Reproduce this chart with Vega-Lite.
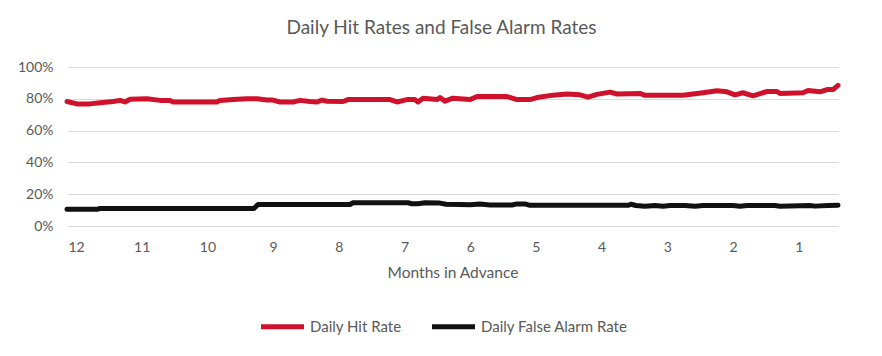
{
  "$schema": "https://vega.github.io/schema/vega-lite/v6.json",
  "width": 771,
  "height": 159,
  "autosize": {"type": "none"},
  "padding": {"left": 67, "top": 67, "right": 44, "bottom": 130},
  "background": "white",
  "title": {
    "text": "Daily Hit Rates and False Alarm Rates",
    "font": "Lato",
    "fontSize": 19,
    "fontWeight": "normal",
    "color": "#595959",
    "anchor": "middle",
    "frame": "group",
    "dx": -11,
    "offset": 22
  },
  "data": {
    "values": [
      {"m": 12.137, "series": "Daily Hit Rate", "v": 0.783},
      {"m": 11.985, "series": "Daily Hit Rate", "v": 0.768},
      {"m": 11.787, "series": "Daily Hit Rate", "v": 0.768},
      {"m": 11.635, "series": "Daily Hit Rate", "v": 0.775},
      {"m": 11.437, "series": "Daily Hit Rate", "v": 0.783},
      {"m": 11.330, "series": "Daily Hit Rate", "v": 0.790},
      {"m": 11.254, "series": "Daily Hit Rate", "v": 0.780},
      {"m": 11.178, "series": "Daily Hit Rate", "v": 0.797},
      {"m": 10.919, "series": "Daily Hit Rate", "v": 0.800},
      {"m": 10.721, "series": "Daily Hit Rate", "v": 0.790},
      {"m": 10.569, "series": "Daily Hit Rate", "v": 0.790},
      {"m": 10.524, "series": "Daily Hit Rate", "v": 0.780},
      {"m": 10.311, "series": "Daily Hit Rate", "v": 0.780},
      {"m": 10.006, "series": "Daily Hit Rate", "v": 0.780},
      {"m": 9.854, "series": "Daily Hit Rate", "v": 0.780},
      {"m": 9.808, "series": "Daily Hit Rate", "v": 0.790},
      {"m": 9.610, "series": "Daily Hit Rate", "v": 0.795},
      {"m": 9.397, "series": "Daily Hit Rate", "v": 0.800},
      {"m": 9.245, "series": "Daily Hit Rate", "v": 0.800},
      {"m": 9.093, "series": "Daily Hit Rate", "v": 0.792},
      {"m": 9.002, "series": "Daily Hit Rate", "v": 0.792},
      {"m": 8.895, "series": "Daily Hit Rate", "v": 0.780},
      {"m": 8.697, "series": "Daily Hit Rate", "v": 0.780},
      {"m": 8.591, "series": "Daily Hit Rate", "v": 0.790},
      {"m": 8.438, "series": "Daily Hit Rate", "v": 0.783},
      {"m": 8.332, "series": "Daily Hit Rate", "v": 0.780},
      {"m": 8.256, "series": "Daily Hit Rate", "v": 0.792},
      {"m": 8.180, "series": "Daily Hit Rate", "v": 0.785},
      {"m": 7.936, "series": "Daily Hit Rate", "v": 0.783},
      {"m": 7.860, "series": "Daily Hit Rate", "v": 0.795},
      {"m": 7.221, "series": "Daily Hit Rate", "v": 0.795},
      {"m": 7.114, "series": "Daily Hit Rate", "v": 0.780},
      {"m": 6.962, "series": "Daily Hit Rate", "v": 0.795},
      {"m": 6.840, "series": "Daily Hit Rate", "v": 0.795},
      {"m": 6.795, "series": "Daily Hit Rate", "v": 0.780},
      {"m": 6.718, "series": "Daily Hit Rate", "v": 0.804},
      {"m": 6.505, "series": "Daily Hit Rate", "v": 0.795},
      {"m": 6.460, "series": "Daily Hit Rate", "v": 0.808},
      {"m": 6.384, "series": "Daily Hit Rate", "v": 0.785},
      {"m": 6.262, "series": "Daily Hit Rate", "v": 0.804},
      {"m": 6.003, "series": "Daily Hit Rate", "v": 0.795},
      {"m": 5.896, "series": "Daily Hit Rate", "v": 0.814},
      {"m": 5.440, "series": "Daily Hit Rate", "v": 0.814},
      {"m": 5.288, "series": "Daily Hit Rate", "v": 0.795},
      {"m": 5.090, "series": "Daily Hit Rate", "v": 0.795},
      {"m": 4.983, "series": "Daily Hit Rate", "v": 0.808},
      {"m": 4.740, "series": "Daily Hit Rate", "v": 0.823},
      {"m": 4.527, "series": "Daily Hit Rate", "v": 0.830},
      {"m": 4.329, "series": "Daily Hit Rate", "v": 0.825},
      {"m": 4.207, "series": "Daily Hit Rate", "v": 0.810},
      {"m": 4.070, "series": "Daily Hit Rate", "v": 0.828},
      {"m": 3.872, "series": "Daily Hit Rate", "v": 0.842},
      {"m": 3.766, "series": "Daily Hit Rate", "v": 0.830},
      {"m": 3.416, "series": "Daily Hit Rate", "v": 0.834},
      {"m": 3.340, "series": "Daily Hit Rate", "v": 0.822},
      {"m": 3.005, "series": "Daily Hit Rate", "v": 0.822},
      {"m": 2.761, "series": "Daily Hit Rate", "v": 0.822},
      {"m": 2.457, "series": "Daily Hit Rate", "v": 0.838},
      {"m": 2.244, "series": "Daily Hit Rate", "v": 0.850},
      {"m": 2.091, "series": "Daily Hit Rate", "v": 0.844},
      {"m": 1.970, "series": "Daily Hit Rate", "v": 0.825},
      {"m": 1.848, "series": "Daily Hit Rate", "v": 0.838},
      {"m": 1.696, "series": "Daily Hit Rate", "v": 0.819},
      {"m": 1.483, "series": "Daily Hit Rate", "v": 0.846},
      {"m": 1.330, "series": "Daily Hit Rate", "v": 0.846},
      {"m": 1.285, "series": "Daily Hit Rate", "v": 0.834},
      {"m": 0.935, "series": "Daily Hit Rate", "v": 0.838},
      {"m": 0.858, "series": "Daily Hit Rate", "v": 0.852},
      {"m": 0.676, "series": "Daily Hit Rate", "v": 0.844},
      {"m": 0.569, "series": "Daily Hit Rate", "v": 0.858},
      {"m": 0.478, "series": "Daily Hit Rate", "v": 0.858},
      {"m": 0.402, "series": "Daily Hit Rate", "v": 0.885},
      {"m": 12.137, "series": "Daily False Alarm Rate", "v": 0.105},
      {"m": 11.680, "series": "Daily False Alarm Rate", "v": 0.105},
      {"m": 11.635, "series": "Daily False Alarm Rate", "v": 0.110},
      {"m": 9.291, "series": "Daily False Alarm Rate", "v": 0.110},
      {"m": 9.230, "series": "Daily False Alarm Rate", "v": 0.135},
      {"m": 7.830, "series": "Daily False Alarm Rate", "v": 0.135},
      {"m": 7.784, "series": "Daily False Alarm Rate", "v": 0.146},
      {"m": 6.947, "series": "Daily False Alarm Rate", "v": 0.146},
      {"m": 6.886, "series": "Daily False Alarm Rate", "v": 0.140},
      {"m": 6.795, "series": "Daily False Alarm Rate", "v": 0.140},
      {"m": 6.688, "series": "Daily False Alarm Rate", "v": 0.146},
      {"m": 6.460, "series": "Daily False Alarm Rate", "v": 0.144},
      {"m": 6.368, "series": "Daily False Alarm Rate", "v": 0.137},
      {"m": 6.155, "series": "Daily False Alarm Rate", "v": 0.136},
      {"m": 6.003, "series": "Daily False Alarm Rate", "v": 0.134},
      {"m": 5.851, "series": "Daily False Alarm Rate", "v": 0.138},
      {"m": 5.699, "series": "Daily False Alarm Rate", "v": 0.132},
      {"m": 5.364, "series": "Daily False Alarm Rate", "v": 0.132},
      {"m": 5.288, "series": "Daily False Alarm Rate", "v": 0.139},
      {"m": 5.167, "series": "Daily False Alarm Rate", "v": 0.139},
      {"m": 5.090, "series": "Daily False Alarm Rate", "v": 0.130},
      {"m": 4.329, "series": "Daily False Alarm Rate", "v": 0.130},
      {"m": 3.598, "series": "Daily False Alarm Rate", "v": 0.130},
      {"m": 3.553, "series": "Daily False Alarm Rate", "v": 0.137},
      {"m": 3.477, "series": "Daily False Alarm Rate", "v": 0.129},
      {"m": 3.340, "series": "Daily False Alarm Rate", "v": 0.124},
      {"m": 3.187, "series": "Daily False Alarm Rate", "v": 0.129},
      {"m": 3.066, "series": "Daily False Alarm Rate", "v": 0.124},
      {"m": 2.959, "series": "Daily False Alarm Rate", "v": 0.129},
      {"m": 2.731, "series": "Daily False Alarm Rate", "v": 0.129},
      {"m": 2.578, "series": "Daily False Alarm Rate", "v": 0.124},
      {"m": 2.457, "series": "Daily False Alarm Rate", "v": 0.129},
      {"m": 2.000, "series": "Daily False Alarm Rate", "v": 0.129},
      {"m": 1.893, "series": "Daily False Alarm Rate", "v": 0.124},
      {"m": 1.787, "series": "Daily False Alarm Rate", "v": 0.129},
      {"m": 1.361, "series": "Daily False Alarm Rate", "v": 0.129},
      {"m": 1.285, "series": "Daily False Alarm Rate", "v": 0.124},
      {"m": 0.828, "series": "Daily False Alarm Rate", "v": 0.129},
      {"m": 0.753, "series": "Daily False Alarm Rate", "v": 0.125},
      {"m": 0.554, "series": "Daily False Alarm Rate", "v": 0.129},
      {"m": 0.402, "series": "Daily False Alarm Rate", "v": 0.131}
    ]
  },
  "mark": {"type": "line", "strokeWidth": 5, "strokeCap": "round", "strokeJoin": "round"},
  "encoding": {
    "x": {
      "field": "m",
      "type": "quantitative",
      "title": "Months in Advance",
      "scale": {"domain": [0.402, 12.137], "reverse": true, "nice": false, "zero": false},
      "axis": {
        "values": [12, 11, 10, 9, 8, 7, 6, 5, 4, 3, 2, 1],
        "format": "d",
        "grid": false,
        "domain": false,
        "ticks": false,
        "labelPadding": 14,
        "titlePadding": 11
      }
    },
    "y": {
      "field": "v",
      "type": "quantitative",
      "title": null,
      "scale": {"domain": [0, 1], "nice": false},
      "axis": {
        "values": [0, 0.2, 0.4, 0.6, 0.8, 1],
        "format": ".0%",
        "domain": false,
        "ticks": false,
        "labelPadding": 14,
        "gridColor": "#D9D9D9",
        "gridWidth": 1
      }
    },
    "color": {
      "field": "series",
      "type": "nominal",
      "scale": {"domain": ["Daily Hit Rate", "Daily False Alarm Rate"], "range": ["#D0112B", "#111111"]},
      "legend": {
        "title": null,
        "orient": "none",
        "direction": "horizontal",
        "legendX": 191,
        "legendY": 235,
        "symbolType": "stroke",
        "symbolSize": 1850,
        "symbolStrokeWidth": 5,
        "labelOffset": 3,
        "columnPadding": 19
      }
    }
  },
  "config": {
    "font": "Lato",
    "view": {"stroke": null},
    "axis": {
      "labelFont": "Lato",
      "labelFontSize": 14,
      "labelColor": "#595959",
      "titleFont": "Lato",
      "titleFontSize": 15.5,
      "titleFontWeight": "normal",
      "titleColor": "#595959"
    },
    "legend": {
      "labelFont": "Lato",
      "labelFontSize": 15,
      "labelColor": "#595959"
    }
  }
}
